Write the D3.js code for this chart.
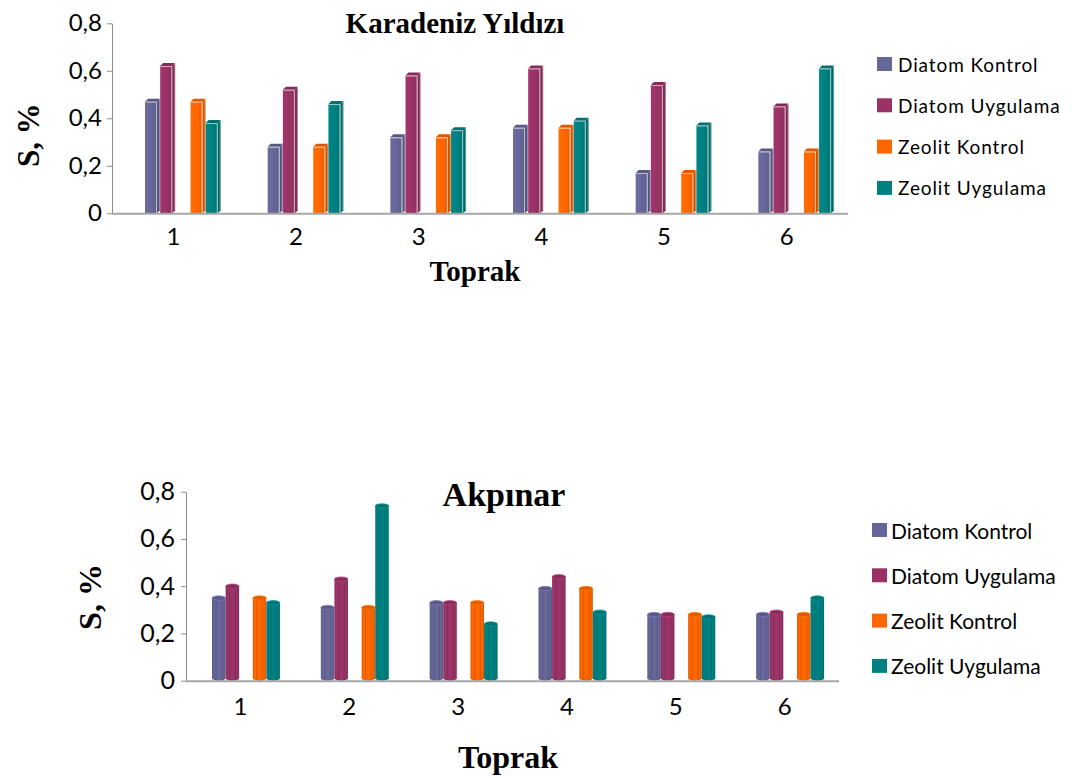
<!DOCTYPE html>
<html>
<head>
<meta charset="utf-8">
<script src="https://cdn.jsdelivr.net/npm/d3@7"></script>
<style>
  body { margin: 0; background: #fff; }
  svg { display: block; }
</style>
</head>
<body>
<svg id="chart" width="1076" height="778"></svg>
<script>
// ---- data ----
const categories = ["1", "2", "3", "4", "5", "6"];
const seriesNames = ["Diatom Kontrol", "Diatom Uygulama", "Zeolit Kontrol", "Zeolit Uygulama"];
const seriesColors = ["#666699", "#993366", "#FF6600", "#008080"];
const yTicks = [0, 0.2, 0.4, 0.6, 0.8];

// Karadeniz Yıldızı
const kyDiatomKontrol   = [0.47, 0.28, 0.32, 0.36, 0.17, 0.26];
const kyDiatomUygulama  = [0.62, 0.52, 0.58, 0.61, 0.54, 0.45];
const kyZeolitKontrol   = [0.47, 0.28, 0.32, 0.36, 0.17, 0.26];
const kyZeolitUygulama  = [0.38, 0.46, 0.35, 0.39, 0.37, 0.61];

// Akpınar
const akDiatomKontrol   = [0.35, 0.31, 0.33, 0.39, 0.28, 0.28];
const akDiatomUygulama  = [0.40, 0.43, 0.33, 0.44, 0.28, 0.29];
const akZeolitKontrol   = [0.35, 0.31, 0.33, 0.39, 0.28, 0.28];
const akZeolitUygulama  = [0.33, 0.74, 0.24, 0.29, 0.27, 0.35];

const svg = d3.select("#chart");
const defs = svg.append("defs");
const trLocale = d3.formatLocale({ decimal: ",", thousands: ".", grouping: [3], currency: ["", ""] });
const tickFmt = trLocale.format(".1~f");

// slot order inside a category: two Diatom bars, an empty slot, two Zeolit bars
const slotOf = [0, 1, 3, 4];

// horizontal shading gradients, one per series and shape
seriesColors.forEach((c, i) => {
  const base = d3.color(c);
  const box = defs.append("linearGradient").attr("id", "box" + i).attr("x1", 0).attr("x2", 1);
  box.append("stop").attr("offset", 0).attr("stop-color", base.brighter(0.15));
  box.append("stop").attr("offset", 0.55).attr("stop-color", base);
  box.append("stop").attr("offset", 1).attr("stop-color", base.darker(0.25));

  const cyl = defs.append("linearGradient").attr("id", "cyl" + i).attr("x1", 0).attr("x2", 1);
  [[0, 0.35], [0.12, 0.05], [0.22, -0.1], [0.3, 0.45], [0.36, 0], [0.62, -0.05], [0.74, 0.35], [0.8, -0.05], [1, 0.45]]
    .forEach(([o, k]) => cyl.append("stop").attr("offset", o)
      .attr("stop-color", k >= 0 ? base.darker(k) : base.brighter(-k)));
});

function drawChart(cfg) {
  const g = svg.append("g");
  const x = d3.scaleBand().domain(categories).range([cfg.left, cfg.right]).padding(0);
  const y = d3.scaleLinear().domain([0, 0.8]).range([cfg.bottom, cfg.top]);
  const bw = x.bandwidth();
  const slot = d3.scaleBand().domain(d3.range(5)).range([bw * cfg.inner[0], bw * cfg.inner[1]]).padding(0);
  const y0 = y(0);

  // y axis
  const yAxis = g.append("g").attr("transform", `translate(${cfg.left},0)`)
    .call(d3.axisLeft(y).tickValues(yTicks).tickFormat(tickFmt).tickSize(5).tickSizeOuter(0).tickPadding(cfg.tickPad));
  yAxis.selectAll("path, line").attr("stroke", "#8c8c8c").attr("stroke-width", 1);
  yAxis.selectAll("text").attr("font-family", "Lato, 'Open Sans', sans-serif")
    .attr("font-size", cfg.tickFont).attr("fill", "#000");

  // category labels
  const xAxis = g.append("g").attr("transform", `translate(0,${y0})`)
    .call(d3.axisBottom(x).tickSize(0).tickPadding(cfg.catPad));
  xAxis.select(".domain").remove();
  xAxis.selectAll("text").attr("font-family", "Lato, 'Open Sans', sans-serif")
    .attr("font-size", cfg.catFont).attr("fill", "#000");

  const series = [cfg.data[0], cfg.data[1], cfg.data[2], cfg.data[3]];
  const bars = [];
  series.forEach((vals, si) => vals.forEach((v, ci) => bars.push({ si, ci, v })));

  const barG = g.append("g");
  bars.forEach(b => {
    const x0 = x(categories[b.ci]) + slot(slotOf[b.si]);
    const yt = y(b.v);
    const base = d3.color(seriesColors[b.si]);
    if (cfg.shape === "box") {
      const w = cfg.barW, d = cfg.depth;
      // side face
      barG.append("path")
        .attr("d", `M${x0 + w},${yt} L${x0 + w + d},${yt - d} L${x0 + w + d},${y0 - d} L${x0 + w},${y0} Z`)
        .attr("fill", base.darker(0.55));
      // front face
      barG.append("rect").attr("x", x0).attr("y", yt).attr("width", w).attr("height", y0 - yt)
        .attr("fill", `url(#box${b.si})`);
      // top face
      barG.append("path")
        .attr("d", `M${x0},${yt} L${x0 + d},${yt - d} L${x0 + w + d},${yt - d} L${x0 + w},${yt} Z`)
        .attr("fill", base.darker(0.4));
      // light edges
      barG.append("path")
        .attr("d", `M${x0 + w - 0.5},${y0} L${x0 + w - 0.5},${yt + 0.5} L${x0 + 0.5},${yt + 0.5}`)
        .attr("fill", "none").attr("stroke", "#fff").attr("stroke-opacity", 0.6).attr("stroke-width", 1);
      barG.append("path")
        .attr("d", `M${x0 + w + d - 0.5},${yt - d} L${x0 + w + d - 0.5},${y0 - d}`)
        .attr("fill", "none").attr("stroke", "#fff").attr("stroke-opacity", 0.35).attr("stroke-width", 1);
    } else {
      const w = cfg.barW, ry = cfg.ry;
      // base ellipse
      barG.append("ellipse").attr("cx", x0 + w / 2).attr("cy", y0 - ry).attr("rx", w / 2).attr("ry", ry)
        .attr("fill", `url(#cyl${b.si})`);
      // body
      barG.append("rect").attr("x", x0).attr("y", yt).attr("width", w).attr("height", y0 - ry - yt)
        .attr("fill", `url(#cyl${b.si})`);
      // top ellipse
      barG.append("ellipse").attr("cx", x0 + w / 2).attr("cy", yt).attr("rx", w / 2).attr("ry", ry)
        .attr("fill", base.darker(0.35)).attr("stroke", base.brighter(0.6)).attr("stroke-width", 0.7);
    }
  });

  // x axis line
  g.append("line").attr("x1", cfg.left).attr("x2", cfg.right).attr("y1", y0 + 0.5).attr("y2", y0 + 0.5)
    .attr("stroke", "#a6a6a6").attr("stroke-width", 2);

  // titles
  g.append("text").attr("x", cfg.titleX).attr("y", cfg.titleY).attr("text-anchor", "middle")
    .attr("font-family", "'Liberation Serif', 'Times New Roman', serif").attr("font-weight", "bold")
    .attr("font-size", cfg.titleFont).text(cfg.title);
  g.append("text").attr("x", cfg.xTitleX).attr("y", cfg.xTitleY).attr("text-anchor", "middle")
    .attr("font-family", "'Liberation Serif', 'Times New Roman', serif").attr("font-weight", "bold")
    .attr("font-size", cfg.xTitleFont).text("Toprak");
  g.append("text").attr("transform", `translate(${cfg.yTitleX},${cfg.yTitleY}) rotate(-90)`)
    .attr("text-anchor", "middle").attr("dominant-baseline", "central")
    .attr("font-family", "'Liberation Serif', 'Times New Roman', serif").attr("font-weight", "bold")
    .attr("font-size", cfg.yTitleFont).text("S, %");

  // legend
  const lg = g.append("g").attr("transform", `translate(${cfg.legX},${cfg.legY})`);
  seriesNames.forEach((name, i) => {
    const row = lg.append("g").attr("transform", `translate(0,${i * cfg.legStep})`);
    row.append("rect").attr("x", 0).attr("y", -7).attr("width", 15).attr("height", 14).attr("fill", seriesColors[i]);
    row.append("text").attr("x", cfg.legTextDx).attr("y", 0).attr("dominant-baseline", "central")
      .attr("font-family", "Lato, 'Open Sans', sans-serif").attr("font-size", cfg.legFont)
      .attr("letter-spacing", cfg.legSpacing).text(name);
  });
}

drawChart({
  data: [kyDiatomKontrol, kyDiatomUygulama, kyZeolitKontrol, kyZeolitUygulama],
  title: "Karadeniz Yıldızı",
  left: 112, right: 848, top: 23.3, bottom: 213.3,
  inner: [0.269, 0.888], shape: "box", barW: 12, depth: 3,
  tickFont: 24, tickPad: 5, catFont: 24, catPad: 15,
  titleX: 455, titleY: 33, titleFont: 29,
  xTitleX: 475, xTitleY: 281, xTitleFont: 29,
  yTitleX: 28, yTitleY: 135, yTitleFont: 31,
  legX: 877, legY: 64, legStep: 41.3, legTextDx: 21, legFont: 19, legSpacing: 0.9
});

drawChart({
  data: [akDiatomKontrol, akDiatomUygulama, akZeolitKontrol, akZeolitUygulama],
  title: "Akpınar",
  left: 186, right: 839, top: 491.7, bottom: 680.7,
  inner: [0.239, 0.864], shape: "cyl", barW: 13.5, ry: 2.2,
  tickFont: 25, tickPad: 6, catFont: 24, catPad: 17,
  titleX: 504, titleY: 506, titleFont: 34,
  xTitleX: 508, xTitleY: 768, xTitleFont: 32,
  yTitleX: 90, yTitleY: 597, yTitleFont: 32,
  legX: 872, legY: 530, legStep: 45.3, legTextDx: 19, legFont: 21, legSpacing: 0
});
</script>
</body>
</html>
